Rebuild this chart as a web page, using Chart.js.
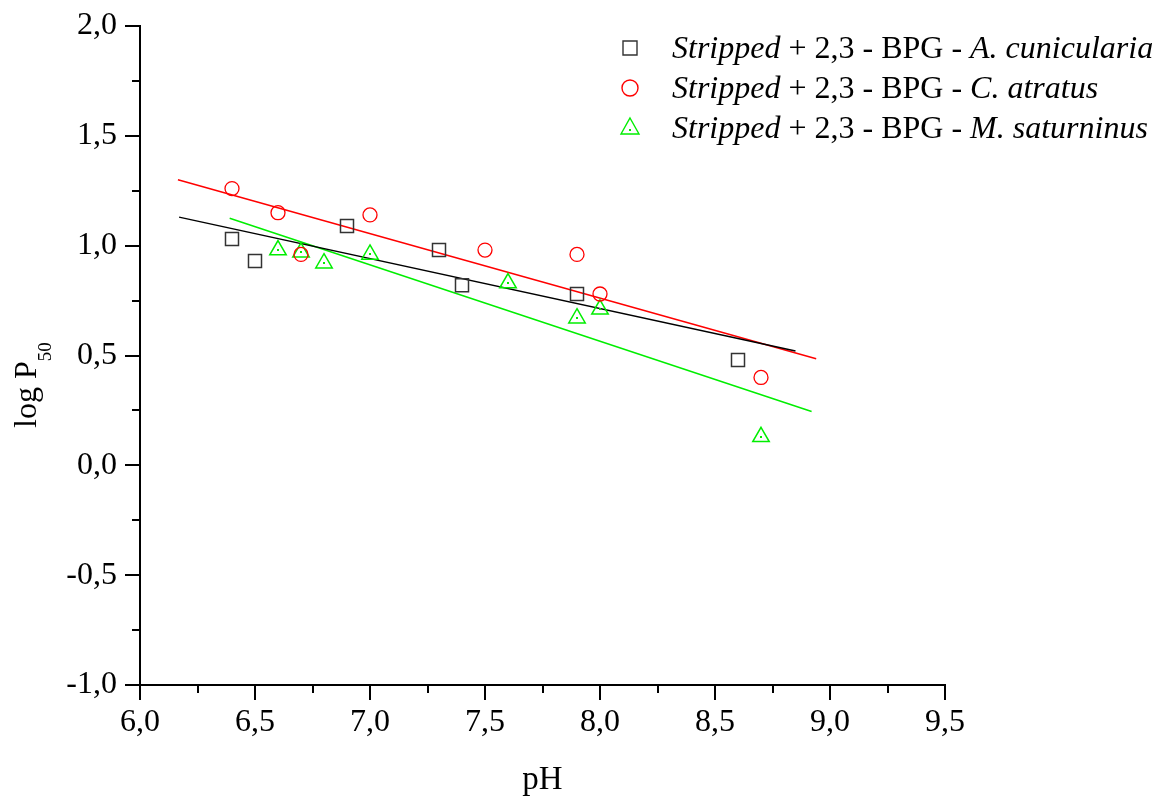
<!DOCTYPE html>
<html>
<head>
<meta charset="utf-8">
<script src="https://cdn.jsdelivr.net/npm/chart.js@4.4.0/dist/chart.umd.min.js"></script>
<style>
  html, body { margin: 0; padding: 0; background: #fff; }
  #wrap { width: 1160px; height: 804px; }
</style>
</head>
<body>
<div id="wrap"><canvas id="myChart" width="1160" height="804"></canvas></div>
<script>
/* data */
var phCunicularia = [6.4, 6.5, 6.9, 7.3, 7.4, 7.9, 8.6];
var logCunicularia = [1.03, 0.93, 1.09, 0.98, 0.82, 0.78, 0.48];

var phAtratus = [6.4, 6.6, 6.7, 7.0, 7.5, 7.9, 8.0, 8.7];
var logAtratus = [1.26, 1.15, 0.96, 1.14, 0.98, 0.96, 0.78, 0.40];

var phSaturninus = [6.6, 6.7, 6.8, 7.0, 7.6, 7.9, 8.0, 8.7];
var logSaturninus = [0.98, 0.97, 0.92, 0.96, 0.83, 0.67, 0.71, 0.13];

// regression lines, end points [pH, log P50]
var fitCunicularia = [[6.17, 1.13], [8.85, 0.52]];
var fitAtratus = [[6.165, 1.30], [8.94, 0.485]];
var fitSaturninus = [[6.39, 1.125], [8.92, 0.245]];

var xTicks = [6.0, 6.5, 7.0, 7.5, 8.0, 8.5, 9.0, 9.5];
var yTicks = [-1.0, -0.5, 0.0, 0.5, 1.0, 1.5, 2.0];

var legendNames = ['A. cunicularia', 'C. atratus', 'M. saturninus'];

var SERIF = '"Liberation Serif", "Times New Roman", serif';
var RED = '#ff0000';
var GREEN = '#00ee00';

function toPoints(xs, ys) {
  return xs.map(function (x, i) { return { x: x, y: ys[i] }; });
}
function pairPoints(arr) {
  return arr.map(function (p) { return { x: p[0], y: p[1] }; });
}
function comma(v) {
  return v.toFixed(1).replace('.', ',');
}

/* minor + major tick marks, both axes */
var tickMarks = {
  id: 'tickMarks',
  afterDraw: function (chart) {
    var ctx = chart.ctx;
    var xs = chart.scales.x, ys = chart.scales.y;
    var area = chart.chartArea;
    ctx.save();
    ctx.strokeStyle = '#000';
    ctx.lineWidth = 2;
    ctx.beginPath();
    for (var v = xs.min; v <= xs.max + 1e-9; v += 0.25) {
      var px = Math.round(xs.getPixelForValue(v));
      var major = Math.abs(v * 2 - Math.round(v * 2)) < 1e-6;
      ctx.moveTo(px, area.bottom);
      ctx.lineTo(px, area.bottom + (major ? 15 : 8));
    }
    for (var w = ys.min; w <= ys.max + 1e-9; w += 0.25) {
      var py = Math.round(ys.getPixelForValue(w));
      var maj = Math.abs(w * 2 - Math.round(w * 2)) < 1e-6;
      ctx.moveTo(area.left, py);
      ctx.lineTo(area.left - (maj ? 15 : 8), py);
    }
    ctx.stroke();
    ctx.restore();
  }
};

/* small dot in the middle of each triangle */
var triangleDots = {
  id: 'triangleDots',
  afterDatasetsDraw: function (chart) {
    var ctx = chart.ctx;
    var meta = chart.getDatasetMeta(2);
    ctx.save();
    ctx.fillStyle = GREEN;
    meta.data.forEach(function (pt) {
      ctx.fillRect(Math.round(pt.x) - 1, Math.round(pt.y) - 1, 2, 2);
    });
    ctx.restore();
  }
};

/* y axis title with subscript */
var yTitle = {
  id: 'yTitle',
  afterDraw: function (chart) {
    var ctx = chart.ctx;
    ctx.save();
    ctx.translate(36, 428);
    ctx.rotate(-Math.PI / 2);
    ctx.fillStyle = '#000';
    ctx.textBaseline = 'alphabetic';
    ctx.textAlign = 'left';
    ctx.font = '32px ' + SERIF;
    ctx.fillText('log P', 0, 0);
    var w = ctx.measureText('log P').width;
    ctx.font = '19px ' + SERIF;
    ctx.fillText('50', w, 15);
    ctx.restore();
  }
};

/* legend: marker + mixed italic / upright text */
var customLegend = {
  id: 'customLegend',
  afterDraw: function (chart) {
    var ctx = chart.ctx;
    var rows = [48, 88, 128];
    ctx.save();
    rows.forEach(function (cy, i) {
      var ds = chart.data.datasets[i];
      ctx.lineWidth = 1.4;
      ctx.strokeStyle = ds.borderColor;
      ctx.beginPath();
      if (i === 0) {
        ctx.rect(623, cy - 7, 14, 14);
      } else if (i === 1) {
        ctx.arc(630, cy, 8, 0, Math.PI * 2);
      } else {
        ctx.moveTo(630, cy - 10);
        ctx.lineTo(639, cy + 6);
        ctx.lineTo(621, cy + 6);
        ctx.closePath();
      }
      ctx.stroke();
      if (i === 2) {
        ctx.fillStyle = GREEN;
        ctx.fillRect(629, cy + 1, 2, 2);
      }

      var parts = [
        ['Stripped', true],
        [' + 2,3 - BPG - ', false],
        [legendNames[i], true]
      ];
      var x = 672;
      ctx.fillStyle = '#000';
      ctx.textBaseline = 'alphabetic';
      parts.forEach(function (p) {
        ctx.font = (p[1] ? 'italic ' : '') + '32px ' + SERIF;
        ctx.fillText(p[0], x, cy + 10);
        x += ctx.measureText(p[0]).width;
      });
    });
    ctx.restore();
  }
};

var ctx = document.getElementById('myChart').getContext('2d');
new Chart(ctx, {
  type: 'scatter',
  data: {
    datasets: [
      {
        label: 'A. cunicularia',
        data: toPoints(phCunicularia, logCunicularia),
        pointStyle: 'rect',
        radius: 9.2,
        borderColor: '#333',
        backgroundColor: 'rgba(0,0,0,0)',
        borderWidth: 1.5,
      },
      {
        label: 'C. atratus',
        data: toPoints(phAtratus, logAtratus),
        pointStyle: 'circle',
        radius: 7,
        borderColor: RED,
        backgroundColor: 'rgba(0,0,0,0)',
        borderWidth: 1.3,
      },
      {
        label: 'M. saturninus',
        data: toPoints(phSaturninus, logSaturninus),
        pointStyle: 'triangle',
        radius: 9.5,
        borderColor: GREEN,
        backgroundColor: 'rgba(0,0,0,0)',
        borderWidth: 1.5,
      },
      {
        type: 'line',
        data: pairPoints(fitCunicularia),
        borderColor: '#000',
        borderWidth: 1.5,
        pointRadius: 0,
        fill: false,
      },
      {
        type: 'line',
        data: pairPoints(fitAtratus),
        borderColor: RED,
        borderWidth: 1.5,
        pointRadius: 0,
        fill: false,
      },
      {
        type: 'line',
        data: pairPoints(fitSaturninus),
        borderColor: GREEN,
        borderWidth: 1.5,
        pointRadius: 0,
        fill: false,
      },
    ],
  },
  options: {
    responsive: false,
    animation: false,
    events: [],
    layout: { padding: { top: 26, right: 215, left: 0, bottom: 0 } },
    plugins: {
      legend: { display: false },
      tooltip: { enabled: false },
    },
    scales: {
      x: {
        type: 'linear',
        min: 6,
        max: 9.5,
        afterBuildTicks: function (scale) {
          scale.ticks = xTicks.map(function (v) { return { value: v }; });
        },
        afterFit: function (scale) {
          scale.height = 119;
          scale.paddingLeft = 0;
          scale.paddingRight = 0;
        },
        grid: { display: false, drawTicks: false },
        border: { display: true, color: '#000', width: 2 },
        ticks: {
          padding: 18,
          color: '#000',
          font: { family: SERIF, size: 32 },
          maxRotation: 0,
          autoSkip: false,
          callback: function (v) { return comma(v); },
        },
        title: {
          display: true,
          text: 'pH',
          color: '#000',
          font: { family: SERIF, size: 33 },
          padding: { top: 0, bottom: 4 },
        },
      },
      y: {
        type: 'linear',
        min: -1,
        max: 2,
        afterBuildTicks: function (scale) {
          scale.ticks = yTicks.map(function (v) { return { value: v }; });
        },
        afterFit: function (scale) {
          scale.width = 140;
          scale.paddingTop = 0;
          scale.paddingBottom = 0;
        },
        grid: { display: false, drawTicks: false },
        border: { display: true, color: '#000', width: 2 },
        ticks: {
          padding: 23,
          color: '#000',
          font: { family: SERIF, size: 32 },
          autoSkip: false,
          callback: function (v) { return comma(v); },
        },
      },
    },
  },
  plugins: [tickMarks, triangleDots, yTitle, customLegend],
});
</script>
</body>
</html>
